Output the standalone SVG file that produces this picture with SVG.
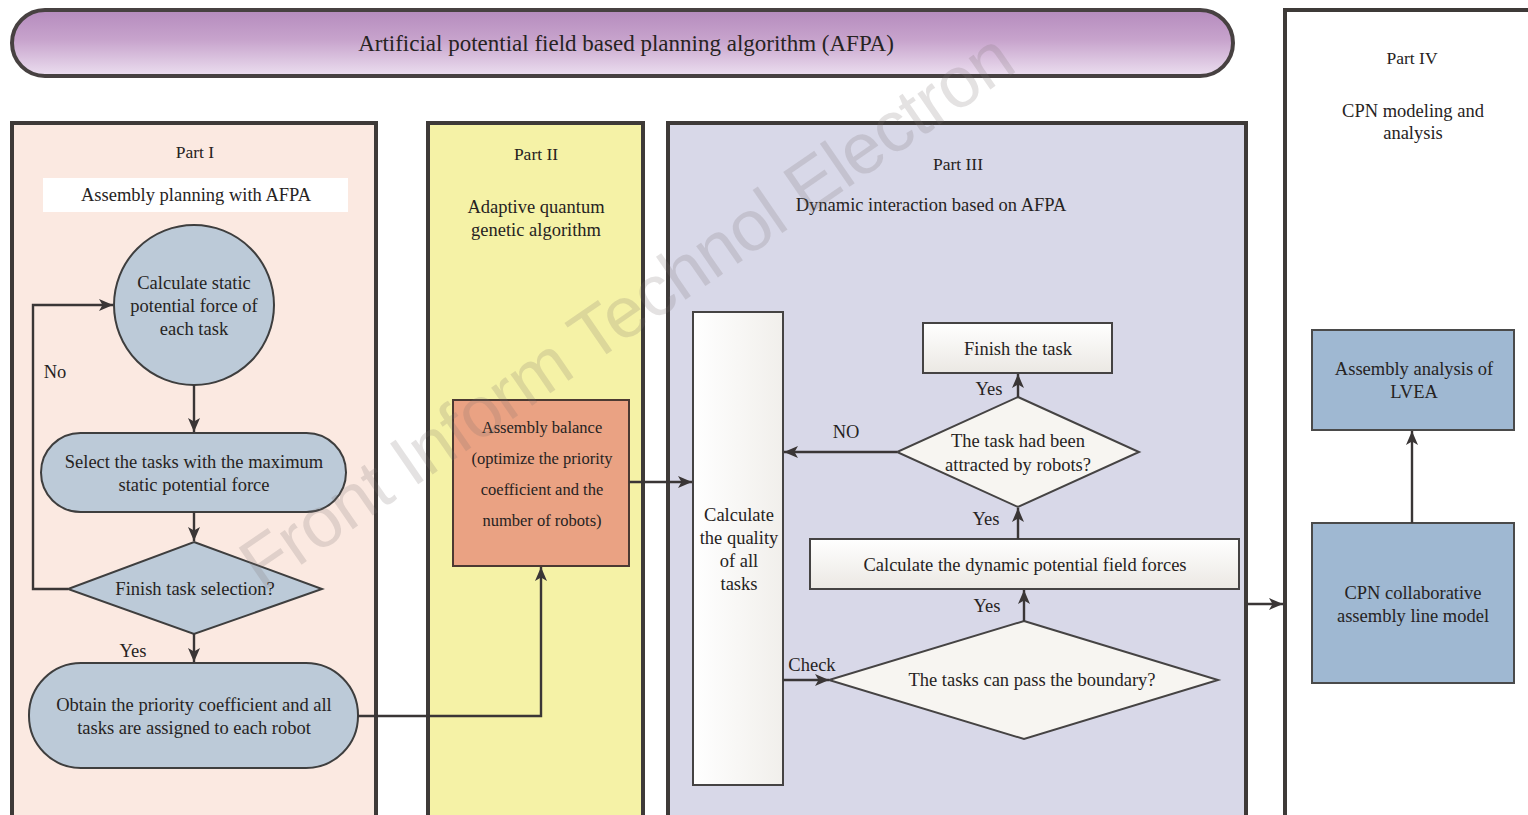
<svg xmlns="http://www.w3.org/2000/svg" width="1528" height="815" viewBox="0 0 1528 815">
<defs>
<linearGradient id="gBanner" x1="0" y1="0" x2="0" y2="1">
<stop offset="0" stop-color="#b58bbd"/>
<stop offset="0.45" stop-color="#c7a3cc"/>
<stop offset="1" stop-color="#ecdff0"/>
</linearGradient>
<linearGradient id="gWhite" x1="0" y1="0" x2="0" y2="1">
<stop offset="0" stop-color="#ffffff"/>
<stop offset="1" stop-color="#ebe8e3"/>
</linearGradient>
<linearGradient id="gTall" x1="0" y1="0" x2="1" y2="0">
<stop offset="0" stop-color="#ffffff"/>
<stop offset="1" stop-color="#f1efeb"/>
</linearGradient>
<marker id="arr" viewBox="0 0 14 12" refX="14" refY="6" markerWidth="14" markerHeight="12" markerUnits="userSpaceOnUse" orient="auto">
<path d="M0,0 L14,6 L0,12 L3.5,6 Z" fill="#3a3636"/>
</marker>
<style>
text{font-family:"Liberation Serif","Times New Roman",serif;fill:#262322;text-anchor:middle}
.t18{font-size:18.5px}
.t17{font-size:17.5px}
.t16{font-size:16.5px}
.panel{stroke:#3e3a38;stroke-width:4}
.blue{fill:#bccad8;stroke:#3e3e3e;stroke-width:2}
.wbox{fill:url(#gWhite);stroke:#454343;stroke-width:2}
.cpn{fill:#9fb8d2;stroke:#4a4a4a;stroke-width:2}
.con{fill:none;stroke:#3a3636;stroke-width:2.4}
.lbl{font-size:18.5px}
</style>
</defs>

<g id="banner">
<rect x="12" y="10" width="1221" height="66" rx="33" ry="33" fill="url(#gBanner)" stroke="#474141" stroke-width="4"/>
<text x="626" y="51" style="font-size:23px">Artificial potential field based planning algorithm (AFPA)</text>
</g>

<g id="part1">
<rect class="panel" x="12" y="123" width="364" height="710" fill="#fbe9e1"/>
<text class="t17" x="195" y="158">Part I</text>
<rect x="43" y="178" width="305" height="34" fill="#ffffff"/>
<text class="t18" x="196" y="201">Assembly planning with AFPA</text>
</g>
<g id="n-static">
<circle class="blue" cx="194" cy="305" r="80"/>
<text class="t18" x="194" y="289">Calculate static</text>
<text class="t18" x="194" y="312">potential force of</text>
<text class="t18" x="194" y="335">each task</text>
</g>
<g id="n-select">
<rect class="blue" x="41" y="433" width="305" height="79" rx="39.5" ry="39.5"/>
<text class="t18" x="194" y="468">Select the tasks with the maximum</text>
<text class="t18" x="194" y="491">static potential force</text>
</g>
<g id="n-finishsel">
<polygon class="blue" points="194,542 322,589 194,634 68,589"/>
<text class="t18" x="195" y="595">Finish task selection?</text>
</g>
<g id="n-obtain">
<rect class="blue" x="29" y="663" width="329" height="105" rx="52" ry="52"/>
<text class="t18" x="194" y="711">Obtain the priority coefficient and all</text>
<text class="t18" x="194" y="734">tasks are assigned to each robot</text>
</g>

<g id="part2">
<rect class="panel" x="428" y="123" width="215" height="710" fill="#f5f2a6"/>
<text class="t17" x="536" y="160">Part II</text>
<text class="t18" x="536" y="213">Adaptive quantum</text>
<text class="t18" x="536" y="236">genetic algorithm</text>
</g>
<g id="n-balance">
<rect x="453" y="400" width="176" height="166" fill="#eaa283" stroke="#4c3a32" stroke-width="2"/>
<text class="t16" x="542" y="433">Assembly balance</text>
<text class="t16" x="542" y="464">(optimize the priority</text>
<text class="t16" x="542" y="495">coefficient and the</text>
<text class="t16" x="542" y="526">number of robots)</text>
</g>

<g id="part3">
<rect class="panel" x="668" y="123" width="578" height="710" fill="#d8d8e8"/>
<text class="t17" x="958" y="170">Part III</text>
<text class="t18" x="931" y="211">Dynamic interaction based on AFPA</text>
</g>
<g id="n-quality">
<rect x="693" y="312" width="90" height="473" fill="url(#gTall)" stroke="#454343" stroke-width="2"/>
<text class="t18" x="739" y="521">Calculate</text>
<text class="t18" x="739" y="544">the quality</text>
<text class="t18" x="739" y="567">of all</text>
<text class="t18" x="739" y="590">tasks</text>
</g>
<g id="n-finishtask">
<rect class="wbox" x="923" y="323" width="189" height="50"/>
<text class="t18" x="1018" y="355">Finish the task</text>
</g>
<g id="n-attracted">
<polygon points="1018,397 1139,452 1018,507 897,452" fill="#f7f5f1" stroke="#454343" stroke-width="2"/>
<text class="t18" x="1018" y="447">The task had been</text>
<text class="t18" x="1018" y="471">attracted by robots?</text>
</g>
<g id="n-dynamic">
<rect class="wbox" x="810" y="539" width="429" height="50"/>
<text class="t18" x="1025" y="571">Calculate the dynamic potential field forces</text>
</g>
<g id="n-boundary">
<polygon points="1024,621 1218,680 1024,739 829,680" fill="#f7f5f1" stroke="#454343" stroke-width="2"/>
<text class="t18" x="1032" y="686">The tasks can pass the boundary?</text>
</g>

<g id="part4">
<rect class="panel" x="1285" y="10" width="260" height="830" fill="#ffffff"/>
<text class="t17" x="1412" y="64">Part IV</text>
<text class="t18" x="1413" y="117">CPN modeling and</text>
<text class="t18" x="1413" y="139">analysis</text>
</g>
<g id="n-lvea">
<rect class="cpn" x="1312" y="330" width="202" height="100"/>
<text class="t18" x="1414" y="375">Assembly analysis of</text>
<text class="t18" x="1414" y="398">LVEA</text>
</g>
<g id="n-cpnmodel">
<rect class="cpn" x="1312" y="523" width="202" height="160"/>
<text class="t18" x="1413" y="599">CPN collaborative</text>
<text class="t18" x="1413" y="622">assembly line model</text>
</g>

<g id="connectors">
<line class="con" x1="194" y1="385" x2="194" y2="432" marker-end="url(#arr)"/>
<line class="con" x1="194" y1="512" x2="194" y2="541" marker-end="url(#arr)"/>
<polyline class="con" points="68,589 33,589 33,305 113,305" marker-end="url(#arr)"/>
<line class="con" x1="194" y1="634" x2="194" y2="662" marker-end="url(#arr)"/>
<polyline class="con" points="358,716 541,716 541,567" marker-end="url(#arr)"/>
<line class="con" x1="629" y1="482" x2="692" y2="482" marker-end="url(#arr)"/>
<line class="con" x1="1018" y1="397" x2="1018" y2="374" marker-end="url(#arr)"/>
<line class="con" x1="897" y1="452" x2="784" y2="452" marker-end="url(#arr)"/>
<line class="con" x1="1018" y1="539" x2="1018" y2="508" marker-end="url(#arr)"/>
<line class="con" x1="1024" y1="621" x2="1024" y2="590" marker-end="url(#arr)"/>
<line class="con" x1="783" y1="680" x2="829" y2="680" marker-end="url(#arr)"/>
<line class="con" x1="1248" y1="604" x2="1283" y2="604" marker-end="url(#arr)"/>
<line class="con" x1="1412" y1="523" x2="1412" y2="431" marker-end="url(#arr)"/>
<text class="lbl" x="55" y="378">No</text>
<text class="lbl" x="133" y="657">Yes</text>
<text class="lbl" x="989" y="395">Yes</text>
<text class="lbl" x="846" y="438">NO</text>
<text class="lbl" x="986" y="525">Yes</text>
<text class="lbl" x="987" y="612">Yes</text>
<text class="lbl" x="812" y="671">Check</text>
</g>

<text x="262" y="592" transform="rotate(-34.6 262 592)" textLength="920" style="font-family:'Liberation Sans',Arial,sans-serif;font-size:72px;fill:#7a7070;fill-opacity:0.2;text-anchor:start">Front Inform Technol Electron</text>
</svg>
